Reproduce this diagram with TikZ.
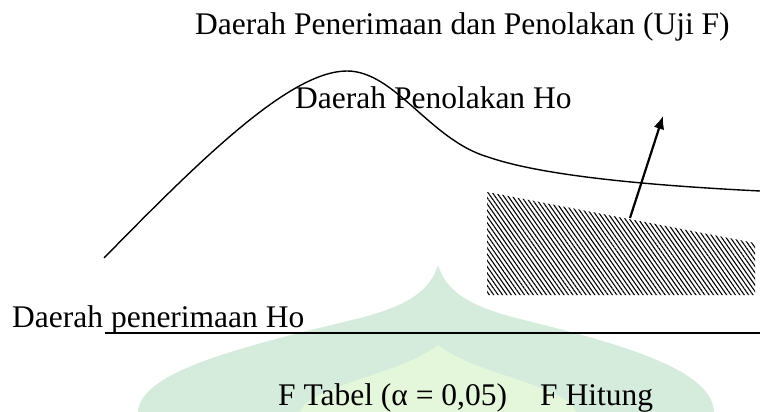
\documentclass[tikz,border=0pt]{standalone}
\usepackage{fontspec}
\setmainfont{Liberation Serif}
\usetikzlibrary{arrows.meta,patterns.meta}
\definecolor{wmOuter}{RGB}{213,236,221}
\definecolor{wmInner}{RGB}{228,247,218}
\tikzset{
  lbl/.style={anchor=base west,inner sep=0pt,font=\fontsize{31.5}{36}\selectfont},
  curveline/.style={line width=1.4pt,black},
  axisline/.style={line width=1.5pt,black},
  arrowline/.style={line width=2.2pt,-{Latex[length=13pt,width=11pt]}},
  hatch/.style={pattern={Lines[angle=-55,distance=3.6pt,line width=1.1pt]}}
}
\begin{document}
\begin{tikzpicture}[x=1pt,y=-1pt]
\useasboundingbox (0,0) rectangle (760,412);
% faint watermark
\fill[wmOuter] (138,412) .. controls (140,370) and (250,345) .. (360,318)
  .. controls (410,305) and (430,290) .. (438,265)
  .. controls (446,290) and (466,305) .. (516,318)
  .. controls (626,345) and (712,370) .. (714,412) -- cycle;
\fill[wmInner] (300,412) .. controls (310,385) and (400,375) .. (438,345)
  .. controls (476,375) and (566,385) .. (576,412) -- cycle;
% hatched region
\path[hatch] (487,192) -- (755,243) -- (755,295) -- (487,295) -- cycle;
% curve
\draw[curveline] (104,258) .. controls (200,160) and (290,71) .. (347,71)
  .. controls (395,71) and (430,140) .. (488,157)
  .. controls (540,175) and (640,185) .. (760,191);
% base line
\coordinate (baseL) at (105,333);
\coordinate (baseR) at (760,333);
\draw[axisline] (baseL) -- (baseR);
% arrow
\coordinate (arrS) at (630,218);
\coordinate (arrE) at (663,116);
\draw[arrowline] (arrS) -- (arrE);
% labels
\node[lbl] (title) at (195,35) {Daerah Penerimaan dan Penolakan (Uji F)};
\node[lbl] (tolak) at (295,108) {Daerah Penolakan Ho};
\node[lbl] (terima) at (12,327) {Daerah penerimaan Ho};
\node[lbl] (ftabel) at (278,405) {F Tabel (α = 0,05)};
\node[lbl] (fhitung) at (540,405) {F Hitung};
\end{tikzpicture}
\end{document}
